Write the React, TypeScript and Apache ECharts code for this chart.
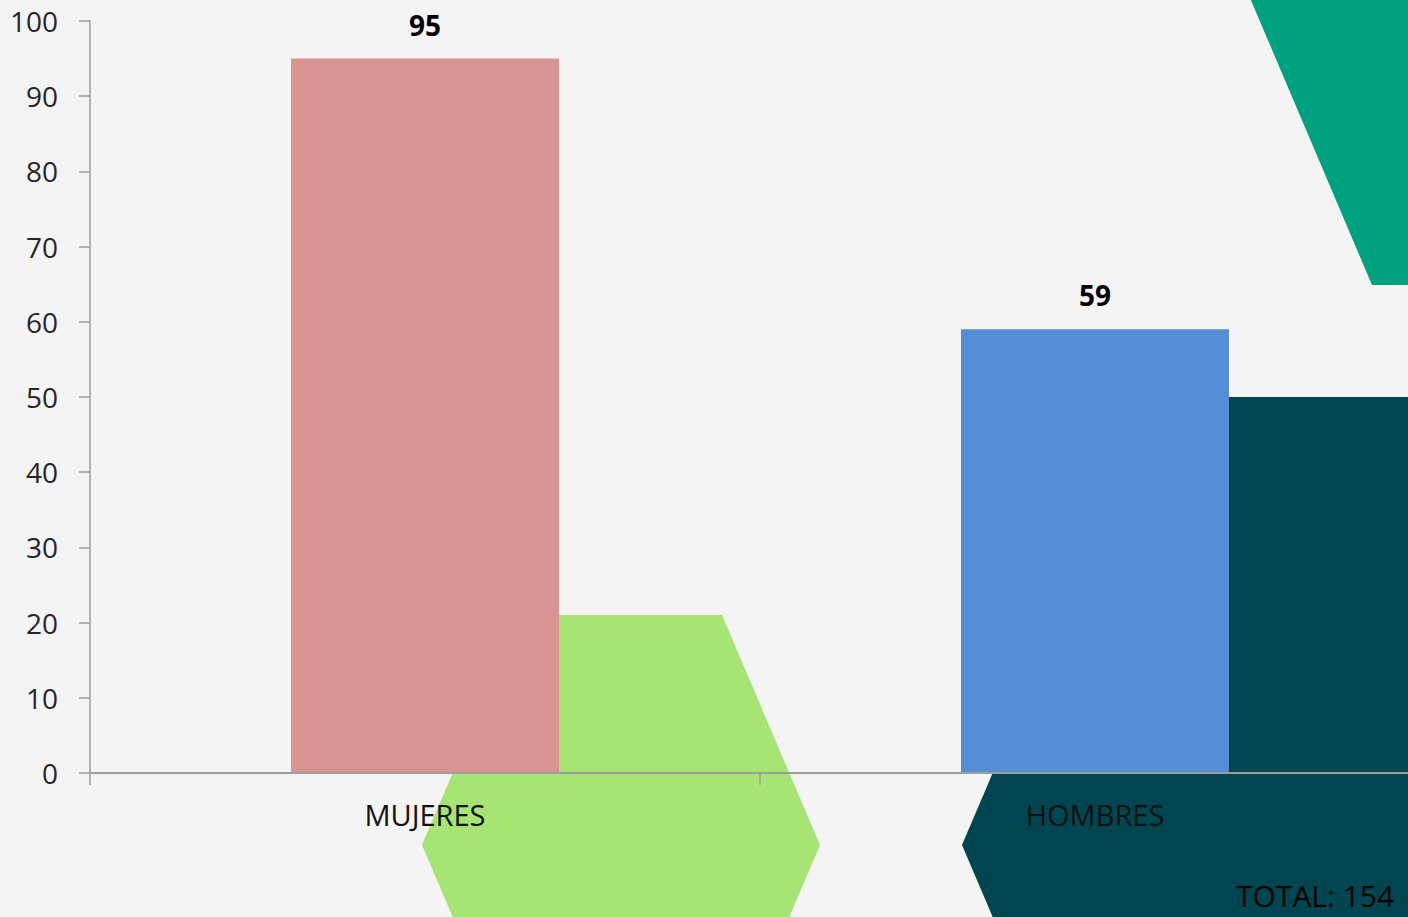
import React, { useEffect, useRef } from "react";
import * as echarts from "echarts";

const categories = ["MUJERES", "HOMBRES"];
const values = [95, 59];
const barColors = ["#d99594", "#558ed5"];
const yTicks = { min: 0, max: 100, interval: 10 };
const totalLabel = "TOTAL: 154";

export default function App() {
  const ref = useRef<HTMLDivElement>(null);
  useEffect(() => {
    if (!ref.current) return;
    const chart = echarts.init(ref.current, undefined, { renderer: "svg" });
    const font = "'Open Sans', 'Noto Sans', sans-serif";
    chart.setOption({
      animation: false,
      backgroundColor: "#f4f4f4",
      grid: { left: 90, top: 21, bottom: 144, right: 10, containLabel: false },
      xAxis: {
        type: "category",
        data: categories,
        z: 10,
        axisLine: { show: true, lineStyle: { color: "#9d9d9d", width: 2 } },
        axisTick: { show: true, alignWithLabel: false, length: 12, lineStyle: { color: "#9d9d9d", width: 1.5 } },
        axisLabel: { color: "#111111", fontSize: 29, fontFamily: font, margin: 27 },
      },
      yAxis: {
        type: "value",
        min: yTicks.min,
        max: yTicks.max,
        interval: yTicks.interval,
        z: 10,
        splitLine: { show: false },
        axisLine: { show: true, lineStyle: { color: "#9d9d9d", width: 1.5 } },
        axisTick: { show: true, length: 11, lineStyle: { color: "#9d9d9d", width: 1.5 } },
        axisLabel: { color: "#262626", fontSize: 28, fontFamily: font, margin: 32 },
      },
      graphic: [
        {
          type: "polygon",
          z: 1,
          shape: { points: [[520, 615], [722, 615], [820, 845], [722, 1075], [520, 1075], [422, 845]] },
          style: { fill: "#a6e473" },
        },
        {
          type: "polygon",
          z: 1,
          shape: { points: [[1153, 397], [1440, 397], [1440, 1300], [1153, 1293], [962, 845]] },
          style: { fill: "#004650" },
        },
        {
          type: "polygon",
          z: 1,
          shape: { points: [[1250, -2], [1440, -2], [1440, 285], [1372, 285]] },
          style: { fill: "#00a17e" },
        },
        {
          type: "text",
          z: 20,
          left: 1236,
          top: 880,
          style: { text: totalLabel, fill: "#000", font: `30px ${font}`, lineHeight: 30 },
        },
      ],
      series: [
        {
          type: "bar",
          z: 5,
          barWidth: "40%",
          data: values.map((v, i) => ({ value: v, itemStyle: { color: barColors[i] } })),
          label: {
            show: true,
            position: "top",
            distance: 20,
            color: "#000",
            fontWeight: "bold",
            fontSize: 28,
            fontFamily: font,
          },
        },
      ],
    });
    return () => chart.dispose();
  }, []);
  return <div ref={ref} style={{ position: "fixed", left: 0, top: 0, width: 1440, height: 917 }} />;
}
